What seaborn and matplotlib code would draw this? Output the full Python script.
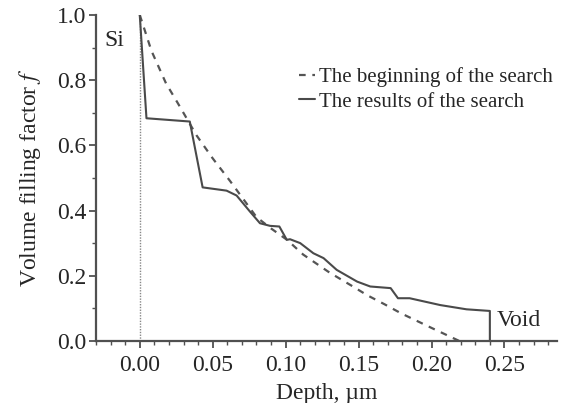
import matplotlib
matplotlib.use("Agg")
import matplotlib.pyplot as plt
import seaborn as sns
import pandas as pd
from matplotlib.ticker import MultipleLocator

# Kurve zu Beginn der Suche (gestrichelt)
start_depth = [0.0, 0.008, 0.018, 0.026, 0.039, 0.050, 0.062, 0.080, 0.090,
               0.101, 0.112, 0.130, 0.145, 0.156, 0.168, 0.179, 0.200, 0.219]
start_f = [1.0, 0.89, 0.79, 0.73, 0.63, 0.56, 0.49, 0.38, 0.345,
           0.31, 0.265, 0.21, 0.17, 0.14, 0.112, 0.085, 0.04, 0.0]

# Ergebnis der Suche (durchgezogen)
result_depth = [0.0, 0.0046, 0.0343, 0.0431, 0.0595, 0.0664, 0.0755, 0.0824,
                0.0893, 0.0957, 0.1008, 0.1030, 0.110, 0.119, 0.126, 0.135,
                0.149, 0.158, 0.172, 0.177, 0.185, 0.206, 0.224, 0.240, 0.240]
result_f = [1.0, 0.683, 0.673, 0.471, 0.461, 0.446, 0.397, 0.361,
            0.353, 0.351, 0.310, 0.312, 0.300, 0.269, 0.254, 0.218,
            0.182, 0.167, 0.162, 0.131, 0.131, 0.110, 0.097, 0.092, 0.0]

sns.set_style("ticks")
plt.rcParams["font.family"] = ["Liberation Serif", "DejaVu Serif"]
plt.rcParams["mathtext.fontset"] = "stix"

fig = plt.figure(figsize=(5.63, 4.03), dpi=100)
ax = fig.add_axes([0.1705, 0.154, 0.818, 0.809])

df_start = pd.DataFrame({"depth": start_depth, "f": start_f})
df_res = pd.DataFrame({"depth": result_depth, "f": result_f})

axis_col = "#505050"
fs = 17

# senkrechte Linie bei Tiefe 0
ax.plot([0, 0], [0, 1.0], color="#888888", lw=1.0, ls=(0, (1, 1)))

sns.lineplot(data=df_start, x="depth", y="f", sort=False, estimator=None,
             color="#555555", lw=1.6, ls=(0, (3, 3)), ax=ax,
             label="The beginning of the search")
sns.lineplot(data=df_res, x="depth", y="f", sort=False, estimator=None,
             color="#4a4a4a", lw=1.5, ax=ax,
             label="The results of the search")

ax.set_xlim(-0.030, 0.2857)
ax.set_ylim(0, 1.0)
ax.xaxis.set_minor_locator(MultipleLocator(0.01))
ax.yaxis.set_minor_locator(MultipleLocator(0.1))
ax.set_xticks([0.0, 0.05, 0.10, 0.15, 0.20, 0.25])
ax.set_xticklabels(["0.00", "0.05", "0.10", "0.15", "0.20", "0.25"])
ax.set_yticks([0.0, 0.2, 0.4, 0.6, 0.8, 1.0])
ax.set_yticklabels(["0.0", "0.2", "0.4", "0.6", "0.8", "1.0"])

ax.tick_params(which="major", direction="out", length=5, width=1.3,
               color=axis_col, labelsize=fs)
ax.tick_params(axis="x", which="major", pad=5)
ax.tick_params(axis="y", which="major", pad=2)
ax.tick_params(which="minor", direction="out", length=3, width=1.0,
               color=axis_col)

for side in ["top", "right"]:
    ax.spines[side].set_visible(False)
for side in ["left", "bottom"]:
    ax.spines[side].set_color(axis_col)
    ax.spines[side].set_linewidth(1.6)

ax.set_xlabel("Depth, µm", fontsize=fs, labelpad=5)
ax.set_ylabel("Volume filling factor $f$", fontsize=fs, labelpad=10)

ax.text(-0.024, 0.92, "Si", fontsize=fs, va="center", ha="left")
ax.text(0.2445, 0.062, "Void", fontsize=fs, va="center", ha="left")

ax.legend(loc="upper left", bbox_to_anchor=(0.423, 0.866), frameon=False,
          fontsize=15, handlelength=0.75, handletextpad=0.2,
          labelspacing=0.25, borderaxespad=0)

fig.savefig("out.png", dpi=100)
